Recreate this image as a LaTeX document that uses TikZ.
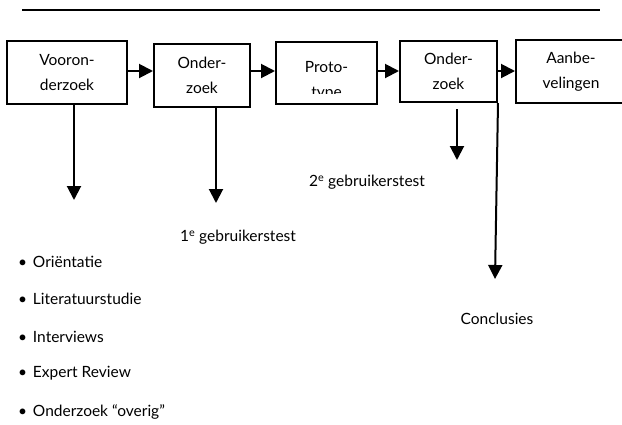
\documentclass[tikz,border=0pt]{standalone}
\usepackage{fontspec}
\setmainfont{Lato}
\usetikzlibrary{arrows.meta, positioning}

\begin{document}
\begin{tikzpicture}[x=1pt, y=-1pt, line width=2pt,
    stap/.style={draw, rectangle, align=center, inner sep=0pt, font=\fontsize{15.5}{25}\selectfont},
    pijl/.style={-{Triangle[length=14pt, width=14pt]}},
    tekst/.style={inner sep=0pt, font=\fontsize{15.5}{19}\selectfont},
    punt/.style={tekst, anchor=west}]
                        \useasboundingbox (0, 0) rectangle (622, 424);
                        \clip (0, 0) rectangle (622, 424);
                        % bovenste lijn
                        \coordinate (lijnl) at (22, 10);
                        \coordinate (lijnr) at (600, 10);
                        \draw (lijnl) -- (lijnr);
                        % stappen
                        \node[stap, minimum width=120, minimum height=63] (voor) at (67, 72.5) {Vooron-\\derzoek};
                        \node[stap, minimum width=96, minimum height=63] (ond1) at (202, 75.5) {Onder-\\zoek};
                        \node[stap, minimum width=101, minimum height=62] (proto) at (326.5, 73) {};
                        \begin{scope}
                        \clip (proto.north west) rectangle (proto.east |- 0, 93);
                        \node[stap, draw=none] (prototxt) at (326.5, 81) {Proto-\\type};
                        \end{scope}
                        \node[stap, minimum width=97, minimum height=61] (ond2) at (448.5, 71.5) {Onder-\\zoek};
                        \node[stap, minimum width=110, minimum height=63] (aanb) at (571, 71.5) {Aanbe-\\velingen};
                        \draw[pijl] (voor.east |- 0, 71) -- (ond1.west |- 0, 71);
                        \draw[pijl] (ond1.east |- 0, 71) -- (proto.west |- 0, 71);
                        \draw[pijl] (proto.east |- 0, 71) -- (ond2.west |- 0, 71);
                        \draw[pijl] (ond2.east |- 0, 71) -- (aanb.west |- 0, 71);
                        % naar beneden
                        \coordinate (voorpunt) at (74, 200);
                        \coordinate (ond1punt) at (216, 203);
                        \coordinate (ond2start) at (457, 109);
                        \coordinate (ond2punt) at (457, 160);
                        \coordinate (conpunt) at (495, 279);
                        \draw[pijl] (voorpunt |- voor.south) -- (voorpunt);
                        \draw[pijl] (ond1punt |- ond1.south) -- (ond1punt);
                        \draw[pijl] (ond2start) -- (ond2punt);
                        \draw[pijl] (ond2.south east) -- (conpunt);
                        % labels
                        \node[tekst] (test1) at (238, 237) {1\textsuperscript{e} gebruikerstest};
                        \node[tekst] (test2) at (367, 182) {2\textsuperscript{e} gebruikerstest};
                        \node[tekst] (concl) at (497, 319) {Conclusies};
                        % lijst
                        \node[punt] (orient) at (17, 262) {\textbullet\hspace{6pt}Oriëntatie};
                        \node[punt] (lit) at (17, 299) {\textbullet\hspace{6pt}Literatuurstudie};
                        \node[punt] (interv) at (17, 337) {\textbullet\hspace{6pt}Interviews};
                        \node[punt] (expert) at (17, 373) {\textbullet\hspace{6pt}Expert Review};
                        \node[punt] (overig) at (17, 412) {\textbullet\hspace{6pt}Onderzoek “overig”};
                    \end{tikzpicture}
\end{document}
